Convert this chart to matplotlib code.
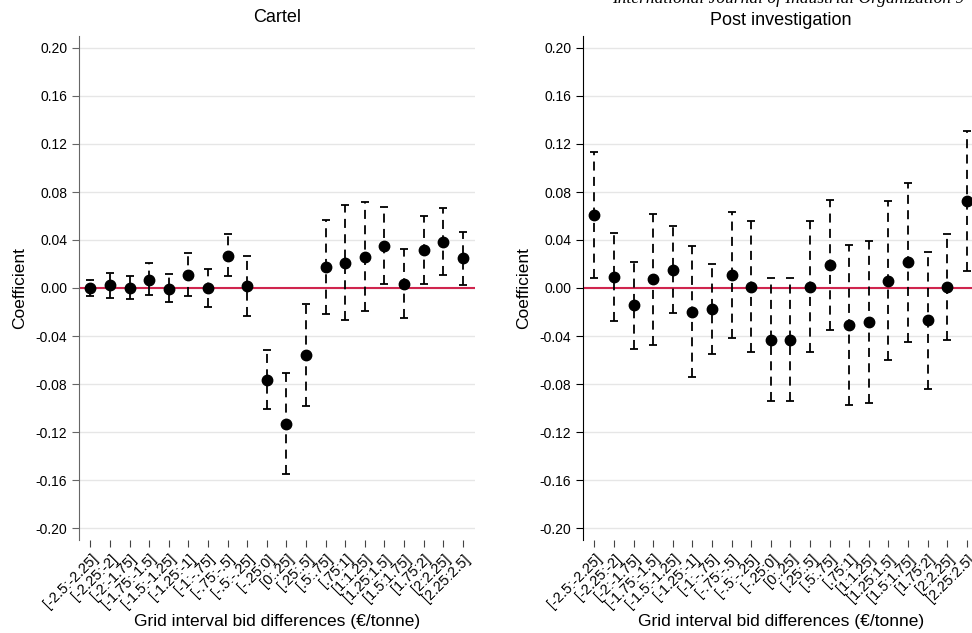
import numpy as np
import matplotlib
matplotlib.use("Agg")
import matplotlib.pyplot as plt

plt.rcParams['font.family'] = ['Liberation Sans', 'DejaVu Sans']

intervals = ["[-2.5:-2.25]", "[-2.25:-2]", "[-2:-1.75]", "[-1.75:-1.5]", "[-1.5:-1.25]",
             "[-1.25:-1]", "[-1:-.75]", "[-.75:-.5]", "[-.5:-.25]", "[-.25:0]",
             "[0:.25]", "[.25:.5]", "[.5:.75]", "[.75:1]", "[1:1.25]",
             "[1.25:1.5]", "[1.5:1.75]", "[1.75:2]", "[2:2.25]", "[2.25:2.5]"]

# Cartel period coefficients and 95% CI bounds
cartel_coef = [0.000, 0.0025, 0.000, 0.007, -0.0005, 0.011, 0.000, 0.027, 0.002, -0.0767,
               -0.113, -0.056, 0.0172, 0.0211, 0.0261, 0.035, 0.0036, 0.0317, 0.0386, 0.0247]
cartel_hi = [0.007, 0.0125, 0.010, 0.0205, 0.0115, 0.0289, 0.016, 0.045, 0.027, -0.052,
             -0.0705, -0.0136, 0.0567, 0.069, 0.072, 0.0672, 0.0328, 0.060, 0.0664, 0.0467]
cartel_lo = [-0.007, -0.008, -0.0095, -0.006, -0.012, -0.0065, -0.0155, 0.0097, -0.0235, -0.101,
             -0.155, -0.098, -0.0214, -0.0267, -0.0194, 0.003, -0.025, 0.0036, 0.0108, 0.0025]

# Post investigation coefficients and 95% CI bounds
post_coef = [0.0608, 0.0092, -0.0144, 0.0072, 0.015, -0.0197, -0.0175, 0.0106, 0.0011, -0.0431,
             -0.0431, 0.0011, 0.0189, -0.0311, -0.0281, 0.0061, 0.0214, -0.0269, 0.0006, 0.0722]
post_hi = [0.1133, 0.0456, 0.0219, 0.0617, 0.0517, 0.0347, 0.020, 0.0633, 0.0561, 0.0083,
           0.0083, 0.0561, 0.0736, 0.0358, 0.0392, 0.0728, 0.0878, 0.0303, 0.0447, 0.1306]
post_lo = [0.0086, -0.0272, -0.0506, -0.0472, -0.0211, -0.0739, -0.0547, -0.0419, -0.0531, -0.0944,
           -0.0944, -0.0531, -0.035, -0.0978, -0.0956, -0.0603, -0.0447, -0.0842, -0.0431, 0.0142]

yticks = np.arange(-0.20, 0.2001, 0.04)

W, H = 972, 633
fig = plt.figure(figsize=(W / 100, H / 100), dpi=100)

panels = [
    ("Cartel", cartel_coef, cartel_lo, cartel_hi, 79, '#666666', 10),
    ("Post investigation", post_coef, post_lo, post_hi, 583, 'black', 8),
]

x = np.arange(1, len(intervals) + 1)
for title, coef, lo, hi, left_px, spine_col, tpad in panels:
    ax = fig.add_axes([left_px / W, 93 / H, 396 / W, 504 / H])
    coef = np.array(coef)
    lo = np.array(lo)
    hi = np.array(hi)
    ax.axhline(0, color='#d0254e', lw=1.5, zorder=2)
    eb = ax.errorbar(x, coef, yerr=[coef - lo, hi - coef], fmt='o', color='black',
                     ms=7.5, elinewidth=1.3, capsize=2.7, capthick=1.3, zorder=3)
    eb[2][0].set_linestyle((0, (5, 3.5)))
    ax.set_xlim(0.42, 20.62)
    ax.set_ylim(-0.21, 0.21)
    ax.set_yticks(yticks)
    ax.set_yticklabels([f"{v:.2f}" for v in yticks], fontsize=10)
    ax.set_xticks(x)
    ax.set_xticklabels(intervals, rotation=45, ha='right', rotation_mode='anchor', fontsize=10.5)
    ax.grid(axis='y', color='#e6e6e6', lw=1)
    ax.set_axisbelow(True)
    for s in ['top', 'right', 'bottom']:
        ax.spines[s].set_visible(False)
    ax.spines['left'].set_color(spine_col)
    ax.tick_params(axis='y', length=5, color=spine_col)
    ax.tick_params(axis='x', length=5, color='#444444')
    ax.set_title(title, fontsize=13, pad=tpad)
    ax.set_ylabel("Coefficient", fontsize=12.5, labelpad=6)
    ax.set_xlabel("Grid interval bid differences (\u20ac/tonne)", fontsize=12.5, labelpad=2)

# journal header, cut by the top edge as in the source page
fig.text(612 / W, 1 - 3 / H, "International Journal of Industrial Organization 9",
         family='Liberation Serif', style='italic', fontsize=12.5, va='baseline', ha='left')

fig.savefig("out.png", dpi=100)
